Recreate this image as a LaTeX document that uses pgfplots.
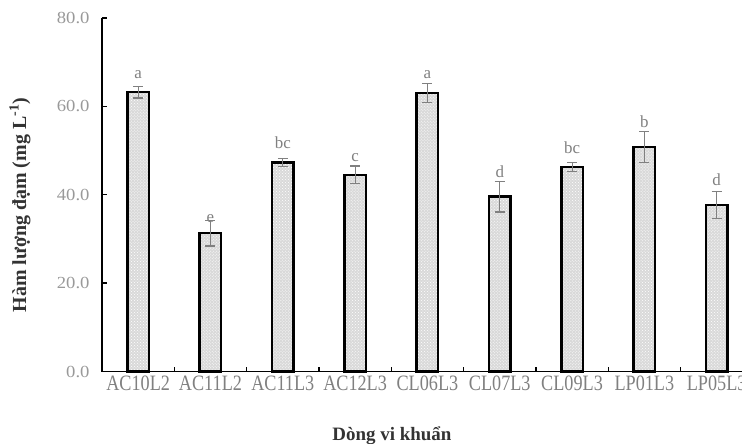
\documentclass[border=0pt]{standalone}
\usepackage{fontspec}
\setmainfont{Liberation Serif}
\newfontfamily\catfont{Liberation Serif}[FakeStretch=0.83]
\newfontfamily\tickfont{Liberation Serif}[FakeStretch=1.1]
\usepackage{pgfplots}
\usepackage{pgfplotstable}
\pgfplotsset{compat=1.18}
\usetikzlibrary{patterns}

\pgfplotstableread{
x y err lab ly
0 63.2 1.3 a 66.4
1 31.3 2.9 e 33.8
2 47.3 0.9 bc 50.5
3 44.5 2.0 c 47.6
4 63.0 2.1 a 66.2
5 39.6 3.5 d 44.0
6 46.3 1.1 bc 49.4
7 50.8 3.5 b 55.3
8 37.7 3.1 d 42.2
}\datatable

\begin{document}
\begin{tikzpicture}
\begin{axis}[
  scale only axis,
  width=640bp, height=353.5bp,
  xmin=-0.5, xmax=8.35,
  ymin=0, ymax=80,
  axis lines=left,
  axis line style={-, line width=1.6bp, black},
  tick align=inside,
  ytick={0,20,40,60,80},
  major tick length=5bp,
  tick style={line width=1.4bp, black},
  xtick={0.5,1.5,...,7.5},
  xticklabels={},
  extra x ticks={0,1,2,3,4,5,6,7,8},
  extra x tick labels={AC10L2,AC11L2,AC11L3,AC12L3,CL06L3,CL07L3,CL09L3,LP01L3,LP05L3},
  extra x tick style={tick style={draw=none}},
  x tick label style={font=\catfont\fontsize{22}{24}\selectfont, text=black!50, yshift=-0.5bp},
  y tick label style={font=\tickfont\fontsize{17}{19}\selectfont, text=black!40, xshift=-9bp},
  /pgf/number format/assume math mode=true,
  yticklabel style={/pgf/number format/.cd, fixed, fixed zerofill, precision=1},
  xlabel={Dòng vi khuẩn},
  ylabel={Hàm lượng đạm (mg L\textsuperscript{-1})},
  xlabel style={font=\bfseries\fontsize{19}{21}\selectfont, text=black!80, at={(axis description cs:0.453,0)}, anchor=base, yshift=-68.5bp},
  ylabel style={font=\bfseries\fontsize{20}{22}\selectfont, text=black!80, at={(axis description cs:-0.128,0.471)}, anchor=center},
  clip=false,
]
\coordinate (O) at (rel axis cs:0,0);
\addplot[ybar, bar width=21.5bp, draw=black, line width=2.5bp, fill=black!15,
  postaction={pattern=crosshatch dots, pattern color=white},
  error bars/.cd, y dir=both, y explicit,
  error bar style={black!50, line width=1.1bp},
  error mark options={rotate=90, mark size=5bp, black!50, line width=1.1bp}]
  table[x=x, y=y, y error=err] {\datatable};
\addplot[draw=none, mark=none, nodes near coords, point meta=explicit symbolic,
  every node near coord/.append style={anchor=base, inner sep=0pt, font=\fontsize{17}{19}\selectfont, text=black!50}]
  table[x=x, y=ly, meta=lab] {\datatable};
\end{axis}
\pgfresetboundingbox
\path ([shift={(-102bp,-72.5bp)}]O) rectangle ([shift={(640bp,371.5bp)}]O);
\end{tikzpicture}
\end{document}
